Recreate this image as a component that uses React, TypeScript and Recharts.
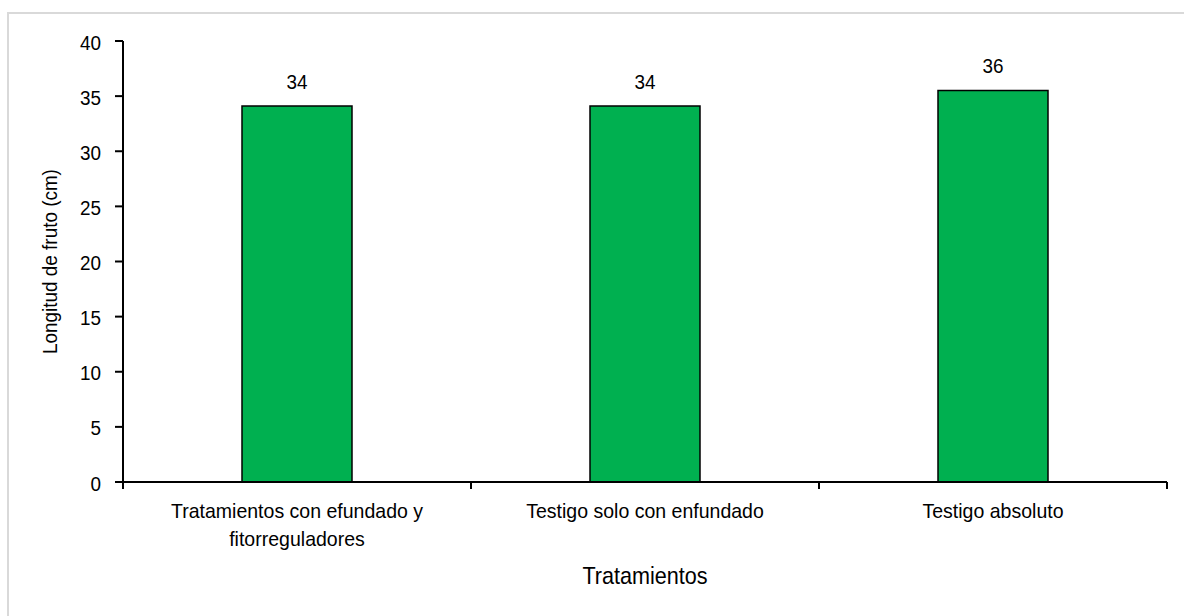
import { BarChart, Bar, XAxis, YAxis, LabelList } from "recharts";

const categories = [
  "Tratamientos con efundado y fitorreguladores",
  "Testigo solo con enfundado",
  "Testigo absoluto",
];
const fruitLength = [34.1, 34.1, 35.5];
const yTicks = [0, 5, 10, 15, 20, 25, 30, 35, 40];

const data = categories.map((name, i) => ({ name, value: fruitLength[i] }));

const WIDTH = 1184;
const HEIGHT = 616;
const Y_AXIS_W = 123;
const MARGIN = { top: 41, right: 17, left: 0, bottom: 28 };
const BAND = (WIDTH - Y_AXIS_W - MARGIN.right) / categories.length;
const FONT = "'Liberation Sans', Arial, sans-serif";
const FS = 21;
const SX = 0.9; // narrow-looking text: squeeze glyphs horizontally
const CAT_SX = 0.93;
const WRAP_W = 300;

let measureCtx: CanvasRenderingContext2D | null = null;
const textWidth = (s: string) => {
  if (!measureCtx) measureCtx = document.createElement("canvas").getContext("2d");
  if (!measureCtx) return s.length * FS * 0.5;
  measureCtx.font = `${FS}px ${FONT}`;
  return measureCtx.measureText(s).width * CAT_SX;
};

// greedy word wrap for the category labels
const wrapLabel = (label: string) => {
  const lines: string[] = [];
  let cur = "";
  label.split(" ").forEach((w) => {
    const next = cur ? `${cur} ${w}` : w;
    if (cur && textWidth(next) > WRAP_W) {
      lines.push(cur);
      cur = w;
    } else {
      cur = next;
    }
  });
  if (cur) lines.push(cur);
  return lines;
};

// category label plus the small tick marks at the band edges
const CategoryTick = (props: any) => {
  const { x, y, payload } = props;
  const half = BAND / 2;
  const isLast = payload.value === categories[categories.length - 1];
  const lines = wrapLabel(String(payload.value));
  return (
    <g>
      <line x1={x - half} x2={x - half} y1={y} y2={y + 7} stroke="#000" strokeWidth={2} />
      {isLast && (
        <line x1={x + half} x2={x + half} y1={y} y2={y + 7} stroke="#000" strokeWidth={2} />
      )}
      <g transform={`translate(${x},${y + 36}) scale(${CAT_SX},1)`}>
        <text textAnchor="middle" fontSize={FS} fontFamily={FONT} fill="#000">
          {lines.map((line, i) => (
            <tspan key={i} x={0} dy={i === 0 ? 0 : 28}>
              {line}
            </tspan>
          ))}
        </text>
      </g>
    </g>
  );
};

const ValueTick = (props: any) => {
  const { x, y, payload } = props;
  return (
    <g transform={`translate(${x},${y + 1}) scale(${SX},1)`}>
      <text textAnchor="end" dy="0.36em" fontSize={FS} fontFamily={FONT} fill="#000">
        {payload.value}
      </text>
    </g>
  );
};

const BarValue = (props: any) => {
  const { x, y, width, value } = props;
  return (
    <g transform={`translate(${Number(x) + Number(width) / 2},${Number(y) - 17.5}) scale(${SX},1)`}>
      <text textAnchor="middle" fontSize={FS} fontFamily={FONT} fill="#000">
        {Math.round(Number(value))}
      </text>
    </g>
  );
};

const XTitle = (props: any) => {
  const { x, y, width } = props.viewBox;
  return (
    <g transform={`translate(${x + width / 2},${y + 102}) scale(${SX},1)`}>
      <text textAnchor="middle" fontSize={24} fontFamily={FONT} fill="#000">
        Tratamientos
      </text>
    </g>
  );
};

const YTitle = (props: any) => {
  const { y, height } = props.viewBox;
  return (
    <g transform={`translate(57,${y + height / 2}) rotate(-90) scale(${SX},1)`}>
      <text textAnchor="middle" fontSize={FS} fontFamily={FONT} fill="#000">
        Longitud de fruto (cm)
      </text>
    </g>
  );
};

export default function App() {
  return (
    <div
      style={{
        position: "absolute",
        left: 0,
        top: 0,
        width: WIDTH,
        height: HEIGHT,
        background: "#fff",
        overflow: "hidden",
      }}
    >
      <div
        style={{
          position: "absolute",
          left: 7,
          top: 12,
          width: WIDTH - 7,
          height: HEIGHT - 12,
          borderTop: "2px solid #d9d9d9",
          borderLeft: "2px solid #d9d9d9",
          boxSizing: "border-box",
        }}
      />
      <div style={{ position: "absolute", left: 0, top: 0 }}>
        <BarChart width={WIDTH} height={HEIGHT} data={data} margin={MARGIN}>
          <XAxis
            dataKey="name"
            height={106}
            axisLine={{ stroke: "#000", strokeWidth: 2 }}
            tickLine={false}
            tickSize={0}
            tickMargin={0}
            interval={0}
            tick={<CategoryTick />}
            label={{ content: XTitle }}
          />
          <YAxis
            width={Y_AXIS_W}
            domain={[0, 40]}
            ticks={yTicks}
            interval={0}
            axisLine={{ stroke: "#000", strokeWidth: 2 }}
            tickLine={{ stroke: "#000", strokeWidth: 2 }}
            tickSize={8}
            tickMargin={14}
            tick={<ValueTick />}
            label={{ content: YTitle }}
          />
          <Bar
            dataKey="value"
            fill="#00B050"
            stroke="#000"
            strokeWidth={1.5}
            barSize={110}
            isAnimationActive={false}
          >
            <LabelList dataKey="value" content={BarValue} />
          </Bar>
        </BarChart>
      </div>
    </div>
  );
}
